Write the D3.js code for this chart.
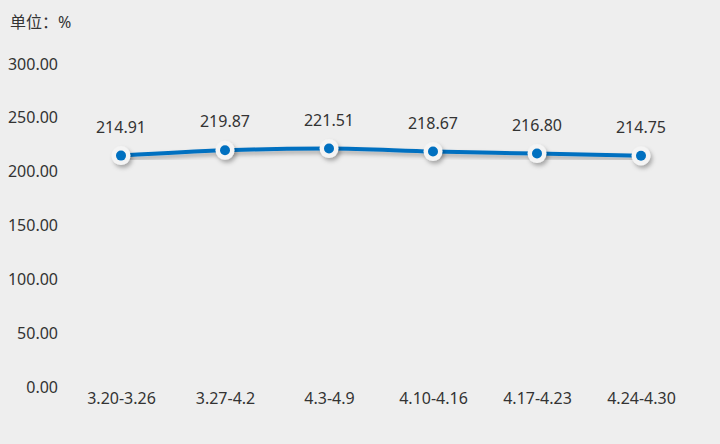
<!DOCTYPE html>
<html><head><meta charset="utf-8">
<script src="https://cdn.jsdelivr.net/npm/d3@7"></script>
<style>
html,body{margin:0;padding:0;background:#eeeeee;}
svg{display:block;font-family:"Noto Sans","Noto Sans CJK SC",sans-serif;}
</style></head>
<body><svg id="c" width="720" height="444"></svg>
<script>
const categories = ["3.20-3.26","3.27-4.2","4.3-4.9","4.10-4.16","4.17-4.23","4.24-4.30"];
const values = [214.91, 219.87, 221.51, 218.67, 216.80, 214.75];
const yTicks = [0, 50, 100, 150, 200, 250, 300];
const unitLabel = "单位：%";

const svg = d3.select("#c");
const W = 720, H = 444;
svg.append("rect").attr("width", W).attr("height", H).attr("fill", "#eeeeee");

const defs = svg.append("defs");
const f = defs.append("filter").attr("id","sh").attr("x","-50%").attr("y","-50%").attr("width","200%").attr("height","200%");
f.append("feDropShadow").attr("dx",2).attr("dy",3).attr("stdDeviation",2).attr("flood-color","#000").attr("flood-opacity",0.3);

const x = d3.scalePoint().domain(categories).range([121, 641]);
const y = d3.scaleLinear().domain([0, 300]).range([387, 64]);

svg.append("text").attr("x", 10).attr("y", 28).attr("font-size", 16).attr("fill", "#333").text(unitLabel);

const yAxis = svg.append("g").attr("transform", "translate(58,0)")
  .call(d3.axisLeft(y).tickValues(yTicks).tickFormat(d3.format(".2f")).tickSize(0).tickPadding(0))
  .attr("font-family", null).attr("font-size", null);
yAxis.select(".domain").remove();
yAxis.selectAll("text").attr("font-size", 16).attr("fill", "#333");

const xAxis = svg.append("g").attr("transform", "translate(0,393)")
  .call(d3.axisBottom(x).tickSize(0).tickPadding(0))
  .attr("font-family", null).attr("font-size", null);
xAxis.select(".domain").remove();
xAxis.selectAll("text").attr("font-size", 16).attr("fill", "#333").attr("dy", "0.71em");

const line = d3.line().x((d,i) => x(categories[i])).y(d => y(d)).curve(d3.curveMonotoneX);
svg.append("path").datum(values).attr("d", line).attr("fill", "none")
  .attr("stroke", "#0070c0").attr("stroke-width", 4).attr("filter", "url(#sh)");

const pts = svg.append("g").selectAll("g").data(values).join("g")
  .attr("transform", (d,i) => `translate(${x(categories[i])},${y(d)})`);
pts.append("circle").attr("r", 9.5).attr("fill", "#f4f4f4").attr("filter", "url(#sh)");
pts.append("circle").attr("r", 5).attr("fill", "#0070c0");

svg.append("g").selectAll("text").data(values).join("text")
  .attr("x", (d,i) => x(categories[i])).attr("y", d => y(d) - 23)
  .attr("text-anchor", "middle").attr("font-size", 16).attr("fill", "#333")
  .text(d => d.toFixed(2));
</script></body></html>
